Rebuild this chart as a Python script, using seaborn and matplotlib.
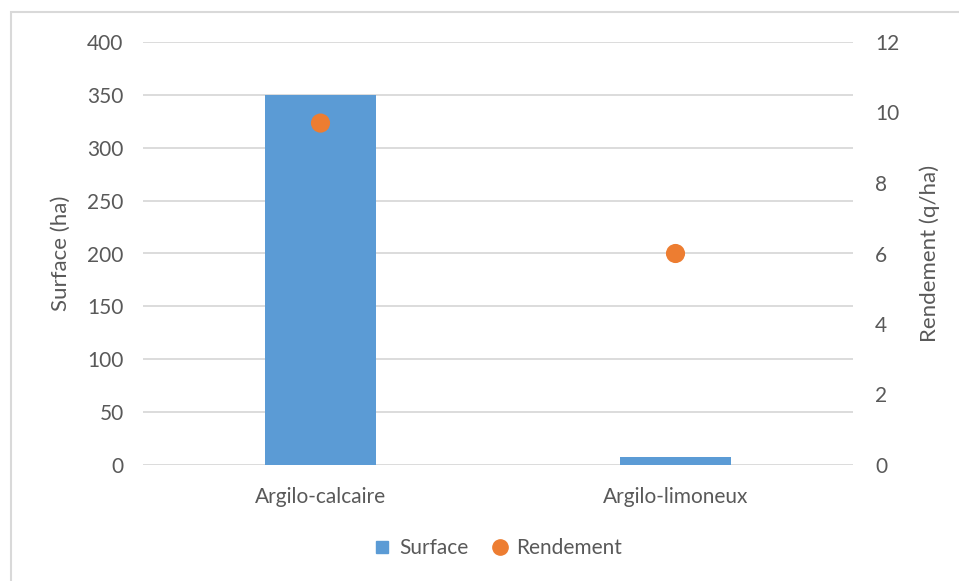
import matplotlib
matplotlib.use("Agg")
import matplotlib.pyplot as plt
import seaborn as sns
import pandas as pd
from matplotlib.patches import Rectangle
from matplotlib.lines import Line2D

categories = ["Argilo-calcaire", "Argilo-limoneux"]
surface = [350, 8]
rendement = [9.7, 6.0]
left_ticks = [0, 50, 100, 150, 200, 250, 300, 350, 400]
right_ticks = [0, 2, 4, 6, 8, 10, 12]

df = pd.DataFrame({"Sol": categories, "Surface": surface, "Rendement": rendement})

sns.set_style("white")
plt.rcParams["font.family"] = ["Lato", "DejaVu Sans"]

BLUE = "#5B9BD5"
ORANGE = "#ED7D31"
TXT = "#595959"
GRID = "#D9D9D9"

fig = plt.figure(figsize=(9.59, 5.81), dpi=100)
ax = fig.add_axes([143 / 959, 1 - 465 / 581, (853 - 143) / 959, (465 - 42) / 581])

sns.barplot(data=df, x="Sol", y="Surface", color=BLUE, width=0.315,
            saturation=1, linewidth=0, ax=ax, zorder=2)
ax.set_ylim(0, 400)
ax.set_xlim(-0.5, 1.5)
ax.set_yticks(left_ticks)
ax.set_yticklabels([str(t) for t in left_ticks])
ax.yaxis.grid(True, color=GRID, linewidth=1.3, zorder=0)
ax.set_axisbelow(True)
for s in ax.spines.values():
    s.set_visible(False)
ax.tick_params(axis="both", length=0, labelsize=15, colors=TXT)
ax.tick_params(axis="x", pad=16)
ax.tick_params(axis="y", pad=14)
ax.set_xlabel("")
ax.set_ylabel("Surface (ha)", fontsize=16, color=TXT, labelpad=12)

ax2 = ax.twinx()
sns.scatterplot(x=[0, 1], y=rendement, color=ORANGE, s=190, edgecolor="none",
                ax=ax2, zorder=3)
ax2.set_ylim(0, 12)
ax2.set_yticks(right_ticks)
ax2.set_yticklabels([str(t) for t in right_ticks])
for s in ax2.spines.values():
    s.set_visible(False)
ax2.tick_params(axis="y", length=0, labelsize=15, colors=TXT, pad=16)
ax2.set_ylabel("Rendement (q/ha)", fontsize=16, color=TXT, labelpad=14)

handles = [
    Line2D([], [], marker="s", linestyle="none", color=BLUE, markersize=9),
    Line2D([], [], marker="o", linestyle="none", color=ORANGE, markersize=11),
]
fig.legend(handles, ["Surface", "Rendement"], loc="center",
           bbox_to_anchor=(497 / 959, 1 - 548 / 581), ncol=2, frameon=False,
           fontsize=15, labelcolor=TXT, handlelength=1.0, handletextpad=0.3,
           columnspacing=1.0)

frame = Rectangle((11 / 959, -0.05), 1.1, 1 - 12 / 581 + 0.05,
                  transform=fig.transFigure, fill=False, edgecolor=GRID,
                  linewidth=1.5, clip_on=False)
fig.patches.append(frame)

fig.savefig("out.png", dpi=100, facecolor="white")
